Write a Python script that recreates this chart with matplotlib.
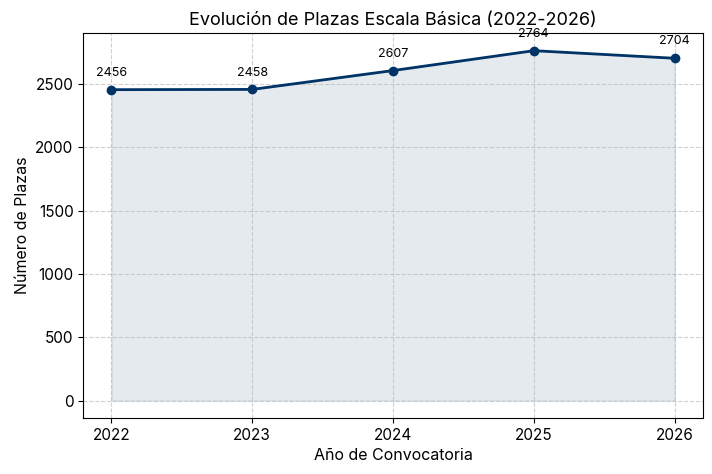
import matplotlib
matplotlib.use("Agg")
import matplotlib.pyplot as plt

# datos
years = [2022, 2023, 2024, 2025, 2026]
plazas = [2456, 2458, 2607, 2764, 2704]

plt.rcParams['font.family'] = ['Inter', 'DejaVu Sans']

fig, ax = plt.subplots(figsize=(7.12, 4.74), dpi=100)

color = '#003366'
ax.plot(years, plazas, marker='o', color=color, linewidth=2, markersize=6)
ax.fill_between(years, plazas, color=color, alpha=0.1)

for x, y in zip(years, plazas):
    ax.annotate(str(y), (x, y), textcoords='offset points', xytext=(0, 10),
                ha='center', fontsize=9)

ax.set_title('Evolución de Plazas Escala Básica (2022-2026)', fontsize=13)
ax.set_xlabel('Año de Convocatoria', fontsize=11.5)
ax.set_ylabel('Número de Plazas', fontsize=11.5)
ax.set_xticks(years)
ax.tick_params(labelsize=11)
ax.grid(True, linestyle='--', alpha=0.6)

plt.tight_layout()
fig.subplots_adjust(left=0.117, right=0.987, top=0.93, bottom=0.118)
fig.savefig('out.png', dpi=100)
